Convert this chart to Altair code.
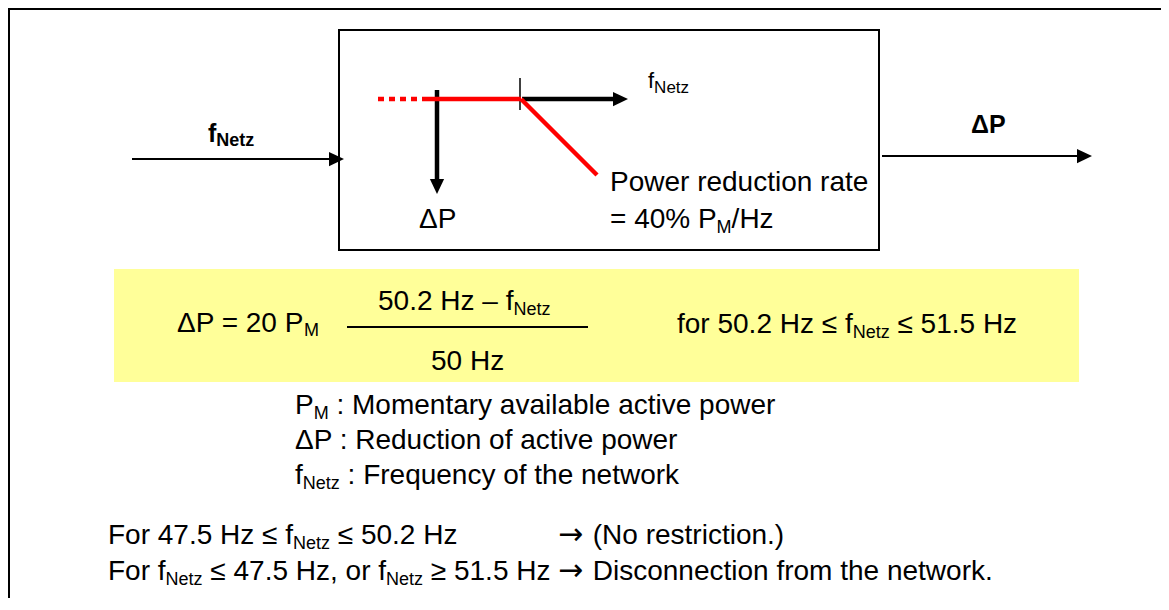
import altair as alt
import pandas as pd

# ---------------- content (text) ----------------
# each part: (text, kind) with kind "m" = main, "s" = subscript, "a" = arrow glyph
input_label = [("f", "m"), ("Netz", "s")]
output_label = [("ΔP", "m")]
axis_f_label = [("f", "m"), ("Netz", "s")]
axis_p_label = [("ΔP", "m")]
rate_lines = [
    [("Power reduction rate", "m")],
    [("= 40% P", "m"), ("M", "s"), ("/Hz", "m")],
]
formula_left = [("ΔP = 20 P", "m"), ("M", "s")]
numerator = [("50.2 Hz – f", "m"), ("Netz", "s")]
denominator = [("50 Hz", "m")]
validity = [("for 50.2 Hz ≤ f", "m"), ("Netz", "s"), (" ≤ 51.5 Hz", "m")]
definitions = [
    [("P", "m"), ("M", "s"), (" : Momentary available active power", "m")],
    [("ΔP : Reduction of active power", "m")],
    [("f", "m"), ("Netz", "s"), (" : Frequency of the network", "m")],
]
conditions = [
    [("For 47.5 Hz ≤ f", "m"), ("Netz", "s"), (" ≤ 50.2 Hz", "m")],
    [("For f", "m"), ("Netz", "s"), (" ≤ 47.5 Hz, or f", "m"), ("Netz", "s"), (" ≥ 51.5 Hz", "m")],
]
condition_results = [
    [("→", "a"), (" (No restriction.)", "m")],
    [("→", "a"), (" Disconnection from the network.", "m")],
]

# ---------------- layout (page pixel positions) ----------------
MAIN, SUB, DROP = 28, 18, 5
def_x, def_baselines = 295, [414, 449, 484]
cond_x, cond_baselines, result_x = 108, [544, 580], 557

# line segments: x1, y1, x2, y2, width, colour, dashed
segments = [
    (9, 8, 9, 600, 2, "black", False),          # outer frame left
    (8, 9, 1161, 9, 2, "black", False),          # outer frame top
    (132, 159, 332, 159, 2, "black", False),     # input arrow shaft
    (882, 156, 1080, 156, 2, "black", False),    # output arrow shaft
    (520, 78, 520, 110, 1.5, "black", False),    # tick on f axis
    (522, 99, 614, 99, 4.5, "black", False),     # f axis shaft
    (437, 90, 437, 180, 4.5, "black", False),    # dP axis shaft
    (378, 99, 427, 99, 4.5, "#FF0000", True),    # dotted red
    (427, 99, 521, 99, 4.5, "#FF0000", False),   # flat red
    (521, 99, 597, 175, 4.5, "#FF0000", False),  # falling red
    (347, 327, 588, 327, 2, "black", False),     # fraction bar
]
# arrow tips: x, y, angle (0 = right, 90 = down)
arrow_tips = [(344, 159, 0), (1092, 156, 0), (628, 99, 0), (437, 194, 90)]
HEAD = 15
inner_box = (339, 30, 879, 250)
yellow_box = (114, 269, 1079, 382)

# ---------------- font metrics (Arial / Liberation Sans, 1/1000 em) ----------------
W = {' ': 278, '!': 278, '%': 889, '(': 333, ')': 333, ',': 278, '-': 333,
     '.': 278, '/': 278, ':': 278, '=': 584, '–': 556, '≤': 549, '≥': 549, '→': 1000, 'Δ': 668}
for ch in '0123456789':
    W[ch] = 556
W.update(dict(zip('ABCDEFGHIJKLMNOPQRSTUVWXYZ',
    [667, 667, 722, 722, 667, 611, 778, 722, 278, 500, 667, 556, 833, 722, 778, 667, 778, 722, 667, 611, 722, 667, 944, 667, 667, 611])))
W.update(dict(zip('abcdefghijklmnopqrstuvwxyz',
    [556, 556, 500, 556, 556, 278, 556, 556, 222, 222, 500, 222, 833, 556, 556, 556, 556, 333, 500, 278, 556, 500, 722, 500, 500, 500])))
WB = dict(W)
WB.update({'f': 333, 't': 333, 'Δ': 700})


def width(s, size, bold=False):
    tbl = WB if bold else W
    return sum(tbl.get(c, 556) for c in s) * size / 1000.0


def lay(parts, x, y, main=MAIN, sub=SUB, drop=DROP, bold=False):
    rows = []
    for txt, kind in parts:
        sz = sub if kind == "s" else main
        # the renderer trims blanks, so move the start past leading blanks instead
        lead = len(txt) - len(txt.lstrip(" "))
        x0 = x + width(" " * lead, sz, bold)
        if kind == "a":
            rows.append({"x": x0 + 1, "y": y, "text": txt.strip(), "size": main + 2, "kind": "a"})
        else:
            rows.append({"x": x0, "y": y + (drop if kind == "s" else 0), "text": txt.strip(),
                         "size": sz, "kind": "t"})
        x += width(txt, sz, bold)
    return rows


reg_rows = []
reg_rows += lay(axis_f_label, 648, 88, main=22, sub=17, drop=5)
reg_rows += lay(axis_p_label, 419, 228)
reg_rows += lay(rate_lines[0], 610, 191)
reg_rows += lay(rate_lines[1], 610, 228)
reg_rows += lay(formula_left, 177, 332, drop=4)
reg_rows += lay(numerator, 378, 310)
reg_rows += lay(denominator, 431, 370)
reg_rows += lay(validity, 677, 333)
for parts, yb in zip(definitions, def_baselines):
    reg_rows += lay(parts, def_x, yb)
for parts, yb in zip(conditions, cond_baselines):
    reg_rows += lay(parts, cond_x, yb)
for parts, yb in zip(condition_results, cond_baselines):
    reg_rows += lay(parts, result_x, yb)

bold_rows = []
bold_rows += lay(input_label, 208, 142, main=25, sub=18, drop=4, bold=True)
bold_rows += lay(output_label, 971, 133, main=25, bold=True)

seg_df = pd.DataFrame(segments, columns=["x", "y", "x2", "y2", "w", "c", "dashed"])
solid_df = seg_df[~seg_df["dashed"]]
dash_df = seg_df[seg_df["dashed"]]
tips_df = pd.DataFrame([{"x": (x - HEAD / 2) if a == 0 else x,
                         "y": y if a == 0 else (y - HEAD / 2), "angle": a} for x, y, a in arrow_tips])
inner_df = pd.DataFrame([dict(zip(["x", "y", "x2", "y2"], inner_box))])
yellow_df = pd.DataFrame([dict(zip(["x", "y", "x2", "y2"], yellow_box))])
reg_all = pd.DataFrame(reg_rows)
reg_df = reg_all[reg_all["kind"] == "t"]
arrow_df = reg_all[reg_all["kind"] == "a"]
bold_df = pd.DataFrame(bold_rows)

PW, PH = 1153, 590
xs = alt.Scale(domain=[8, 8 + PW], nice=False, zero=False)
ys = alt.Scale(domain=[8, 8 + PH], nice=False, zero=False, reverse=True)


def X(f="x"):
    return alt.X(f"{f}:Q", scale=xs, axis=None)


def Y(f="y"):
    return alt.Y(f"{f}:Q", scale=ys, axis=None)


yellow = alt.Chart(yellow_df).mark_rect(color="#FFFF99").encode(
    x=X(), x2="x2:Q", y=Y(), y2="y2:Q")

box = alt.Chart(inner_df).mark_rect(fillOpacity=0, stroke="black", strokeWidth=2).encode(
    x=X(), x2="x2:Q", y=Y(), y2="y2:Q")

solid = alt.Chart(solid_df).mark_rule(strokeCap="butt").encode(
    x=X(), x2="x2:Q", y=Y(), y2="y2:Q",
    color=alt.Color("c:N", scale=None),
    strokeWidth=alt.StrokeWidth("w:Q", scale=None))

dashed = alt.Chart(dash_df).mark_rule(strokeCap="butt", strokeDash=[6, 5]).encode(
    x=X(), x2="x2:Q", y=Y(), y2="y2:Q",
    color=alt.Color("c:N", scale=None),
    strokeWidth=alt.StrokeWidth("w:Q", scale=None))

heads = alt.Chart(tips_df).mark_point(
    shape="M-1,-0.95L1,0L-1,0.95Z", filled=True, color="black", opacity=1,
    size=HEAD * HEAD, strokeWidth=0).encode(
    x=X(), y=Y(), angle=alt.Angle("angle:Q", scale=None))

texts = alt.Chart(reg_df).mark_text(
    align="left", baseline="alphabetic", font="Liberation Sans", color="black").encode(
    x=X(), y=Y(), text="text:N", size=alt.Size("size:Q", scale=None))

arrows_txt = alt.Chart(arrow_df).mark_text(
    align="left", baseline="alphabetic", font="DejaVu Sans", color="black").encode(
    x=X(), y=Y(), text="text:N", size=alt.Size("size:Q", scale=None))

btexts = alt.Chart(bold_df).mark_text(
    align="left", baseline="alphabetic", font="Liberation Sans", fontWeight="bold",
    color="black").encode(
    x=X(), y=Y(), text="text:N", size=alt.Size("size:Q", scale=None))

chart = alt.layer(yellow, box, solid, dashed, heads, texts, arrows_txt, btexts).properties(
    width=PW, height=PH, padding=0, autosize=alt.AutoSizeParams(type="none"),
    background="white"
).configure_view(stroke=None)

chart.save("out.html", embed_options={"renderer": "svg", "actions": False})
